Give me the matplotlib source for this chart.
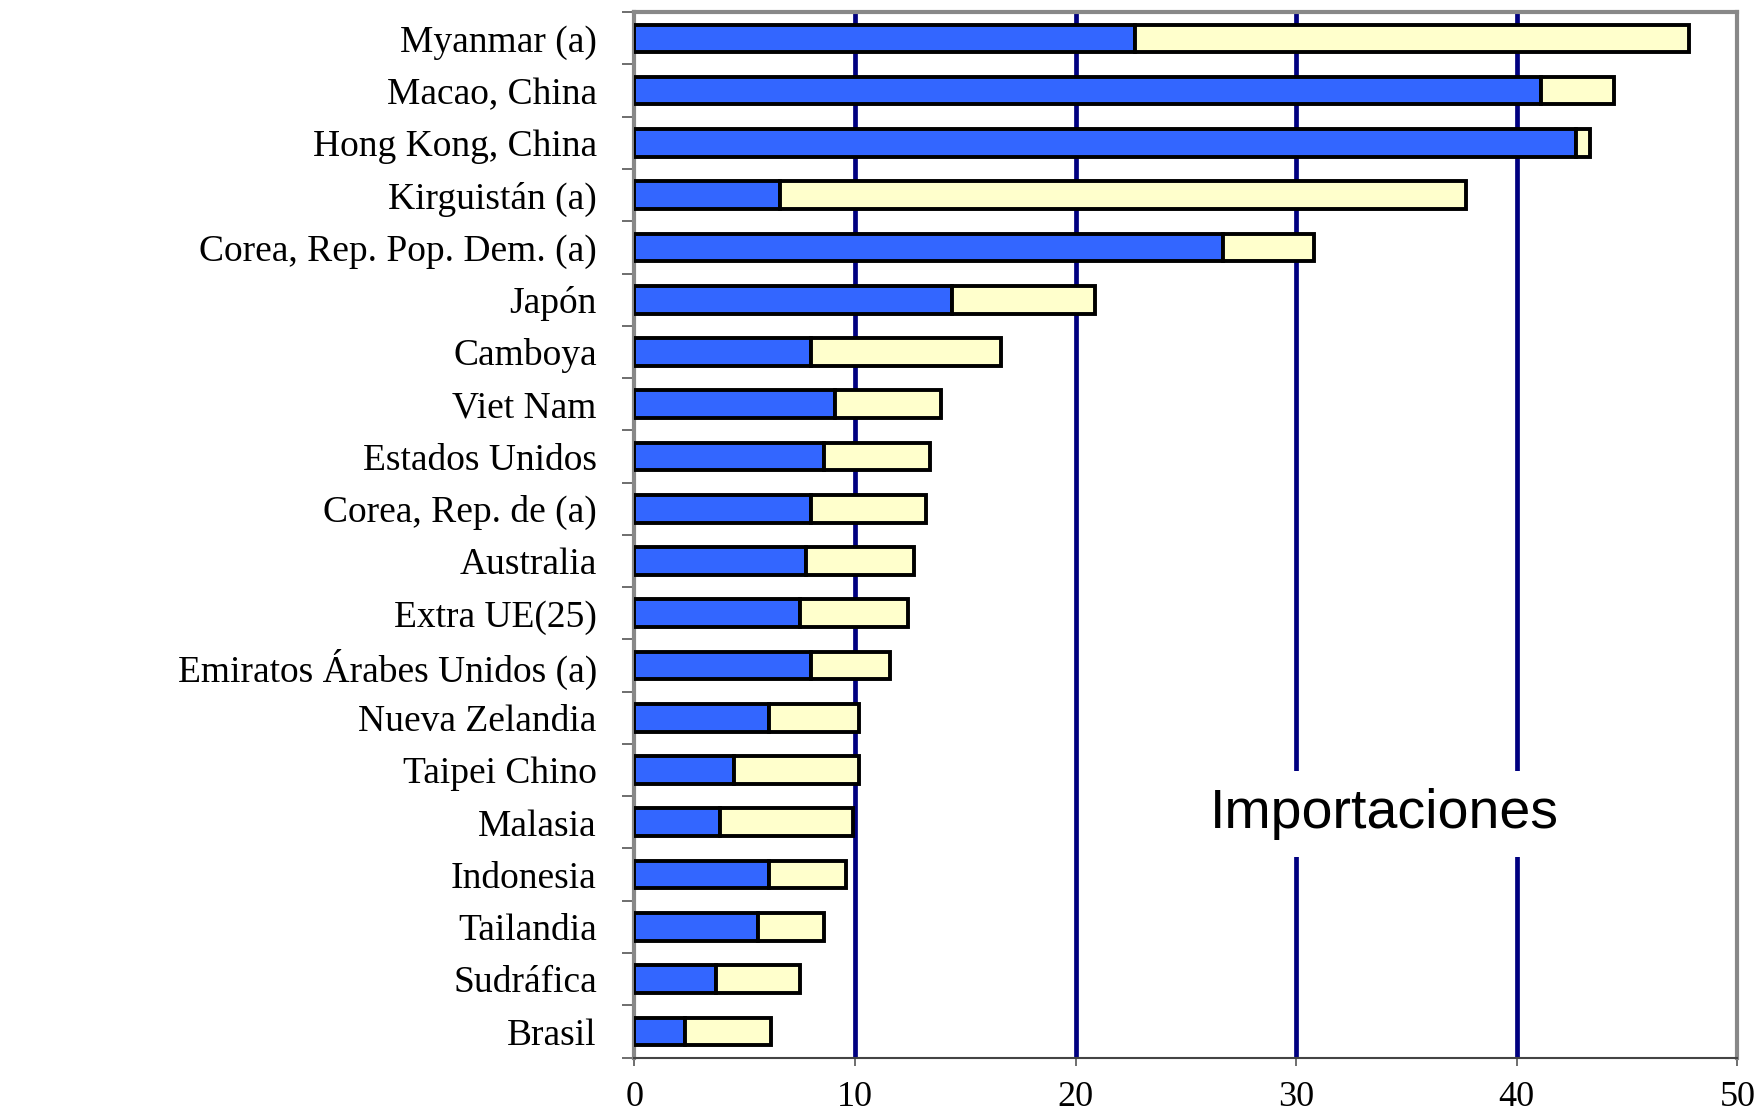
import matplotlib.pyplot as plt
import numpy as np

countries = ['Myanmar (a)', 'Macao, China', 'Hong Kong, China', 'Kirguistán (a)',
             'Corea, Rep. Pop. Dem. (a)', 'Japón', 'Camboya', 'Viet Nam',
             'Estados Unidos', 'Corea, Rep. de (a)', 'Australia', 'Extra UE(25)',
             'Emiratos Árabes Unidos (a)', 'Nueva Zelandia', 'Taipei Chino',
             'Malasia', 'Indonesia', 'Tailandia', 'Sudráfica', 'Brasil']

# first part (blue) and total bar length
blue = [22.7, 41.1, 42.7, 6.6, 26.7, 14.4, 8.0, 9.1, 8.6, 8.0,
        7.8, 7.5, 8.0, 6.1, 4.5, 3.9, 6.1, 5.6, 3.7, 2.3]
total = [47.8, 44.4, 43.3, 37.7, 30.8, 20.9, 16.6, 13.9, 13.4, 13.2,
         12.7, 12.4, 11.6, 10.2, 10.2, 9.9, 9.6, 8.6, 7.5, 6.2]
rest = [t - b for t, b in zip(total, blue)]

xticks = [0, 10, 20, 30, 40, 50]

fig = plt.figure(figsize=(17.62, 11.12), dpi=100)
ax = fig.add_axes([0.360, 0.049, 0.626, 0.940])

y = np.arange(len(countries))
ax.barh(y, blue, height=0.53, color='#3366FF', edgecolor='black', linewidth=2.8, zorder=3)
ax.barh(y, rest, left=blue, height=0.53, color='#FFFFCC', edgecolor='black', linewidth=2.8, zorder=3)

for v in xticks[1:-1]:
    ax.axvline(v, color='#000080', linewidth=3.4, zorder=1)

ax.set_xlim(0, 50)
ax.set_ylim(len(countries) - 0.55, -0.45)

ax.set_yticks(y)
ax.set_yticklabels(countries, family='Liberation Serif', fontsize=27)
ax.set_yticks(np.arange(len(countries) + 1) - 0.5, minor=True)
ax.tick_params(axis='y', which='major', length=0, pad=27)
ax.tick_params(axis='y', which='minor', length=9, width=1.2, color='#555555', direction='out')

ax.set_xticks(xticks)
ax.set_xticklabels([str(v) for v in xticks], family='Liberation Serif', fontsize=26)
ax.tick_params(axis='x', length=6, width=1.2, color='#555555', pad=11)

for side in ['top', 'right']:
    ax.spines[side].set_color('#888888')
    ax.spines[side].set_linewidth(3)
ax.spines['left'].set_color('#888888')
ax.spines['left'].set_linewidth(3)
ax.spines['bottom'].set_color('#444444')
ax.spines['bottom'].set_linewidth(1.5)

ax.text(0.680, 0.233, 'Importaciones', transform=ax.transAxes, ha='center', va='center',
        family='Liberation Sans', fontsize=40, zorder=4,
        bbox=dict(boxstyle='square,pad=0.3', facecolor='white', edgecolor='none'))

fig.savefig('out.png', dpi=100)
